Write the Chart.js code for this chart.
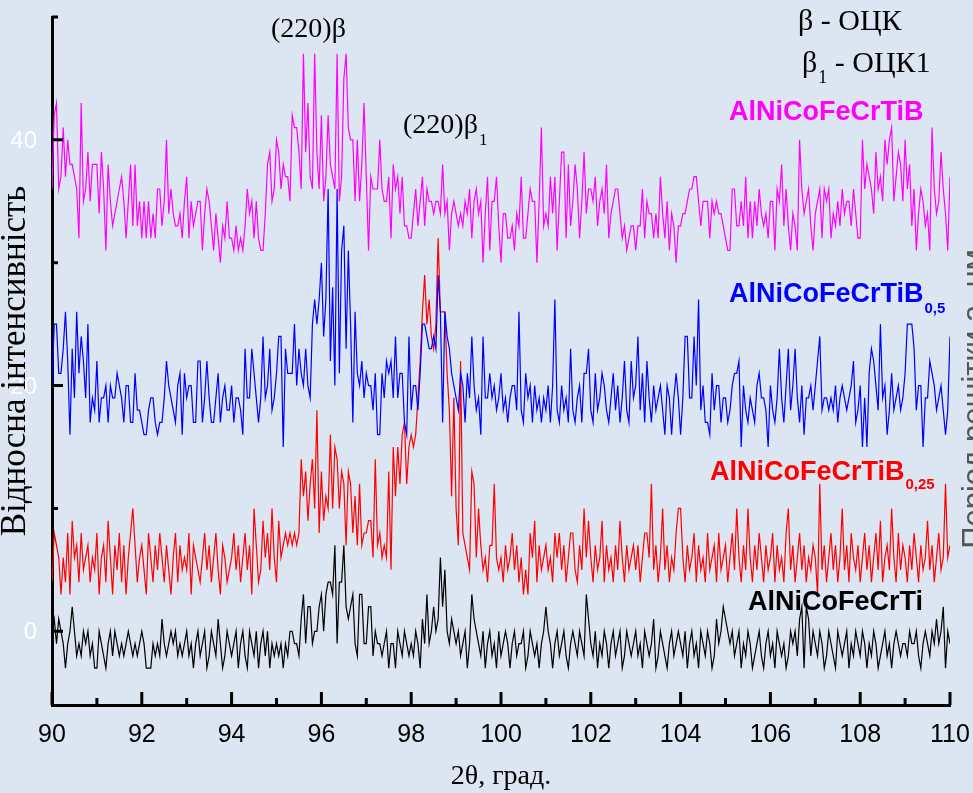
<!DOCTYPE html>
<html>
<head>
<meta charset="utf-8">
<script src="https://cdn.jsdelivr.net/npm/chart.js@4.4.0/dist/chart.umd.min.js"></script>
<style>
  html, body { margin: 0; padding: 0; background: #dce6f2; }
  #wrap { width: 973px; height: 793px; }
</style>
</head>
<body>
<div id="wrap"><canvas id="xrd" width="973" height="793"></canvas></div>
<script>
// sampling grid of the scans: 90..110 deg, 0.05 deg step
const X_START = 90
const X_STEP = 0.05

const xTickLabels = [90, 92, 94, 96, 98, 100, 102, 104, 106, 108, 110]
const xMinorTicks = [91, 93, 95, 97, 99, 101, 103, 105, 107, 109]
const yTickLabels = [0, 20, 40]
const yMinorTicks = [10, 30, 50]

// AlNiCoFeCrTiB (magenta), one row per degree
const magenta = [
  36, 42, 43, 36, 37, 41, 37, 40, 38, 38, 37, 36, 32, 43, 35, 36, 39, 35, 38, 38,
  38, 34, 39, 36, 31, 38, 35, 33, 34, 35, 36, 37, 35, 32, 35, 38, 33, 38, 33, 35,
  32, 35, 32, 35, 32, 34, 32, 36, 36, 33, 35, 40, 34, 36, 34, 33, 33, 34, 32, 35,
  37, 32, 35, 33, 34, 35, 35, 31, 34, 36, 35, 33, 31, 34, 32, 30, 33, 32, 35, 32,
  32, 31, 33, 31, 32, 31, 33, 36, 34, 35, 32, 35, 32, 31, 31, 34, 38, 39, 35, 36,
  40, 39, 36, 38, 37, 37, 35, 42, 41, 41, 39, 36, 47, 39, 43, 37, 36, 47, 39, 36,
  42, 35, 37, 42, 38, 37, 36, 47, 35, 37, 45, 47, 41, 40, 40, 35, 40, 35, 38, 43,
  37, 31, 37, 36, 36, 36, 40, 36, 35, 35, 37, 32, 38, 36, 37, 34, 37, 33, 33, 32,
  32, 34, 36, 33, 35, 37, 33, 36, 35, 35, 34, 35, 35, 34, 38, 34, 35, 31, 34, 35,
  34, 33, 34, 33, 35, 34, 36, 32, 35, 36, 34, 35, 30, 34, 37, 31, 35, 35, 37, 33,
  30, 34, 34, 32, 32, 33, 31, 34, 33, 37, 32, 32, 34, 36, 35, 35, 30, 35, 41, 33,
  34, 33, 37, 34, 37, 31, 35, 39, 39, 32, 38, 33, 35, 38, 36, 32, 35, 39, 34, 36,
  36, 35, 37, 33, 35, 36, 34, 38, 32, 34, 35, 36, 36, 34, 32, 33, 31, 32, 33, 33,
  31, 33, 33, 36, 32, 35, 34, 34, 32, 34, 32, 37, 34, 32, 35, 31, 34, 33, 30, 33,
  33, 34, 34, 35, 36, 36, 37, 37, 35, 33, 35, 35, 35, 32, 35, 34, 35, 34, 34, 33,
  32, 31, 31, 36, 36, 33, 33, 35, 33, 37, 32, 35, 32, 35, 33, 36, 34, 33, 34, 32,
  35, 35, 31, 36, 35, 38, 33, 36, 33, 31, 34, 33, 31, 40, 36, 34, 35, 36, 33, 31,
  34, 35, 36, 32, 36, 35, 36, 32, 34, 33, 35, 33, 36, 34, 35, 35, 33, 36, 34, 32,
  32, 40, 36, 38, 37, 36, 34, 39, 36, 37, 35, 40, 38, 40, 41, 35, 37, 39, 38, 35,
  40, 36, 38, 33, 36, 31, 34, 36, 35, 33, 34, 31, 41, 36, 34, 35, 39, 36, 34, 31,
  37
]

// AlNiCoFeCrTiB0,5 (blue)
const blue = [
  20, 25, 25, 21, 21, 23, 26, 22, 16, 23, 19, 26, 21, 24, 22, 19, 25, 17, 19, 18,
  22, 17, 19, 19, 20, 17, 20, 19, 19, 21, 20, 19, 17, 20, 20, 17, 17, 21, 18, 18,
  17, 16, 16, 18, 19, 19, 17, 16, 17, 17, 19, 22, 20, 19, 18, 17, 20, 21, 16, 21,
  19, 20, 20, 17, 17, 22, 22, 17, 19, 22, 19, 17, 17, 19, 21, 17, 19, 20, 18, 18,
  20, 17, 19, 19, 18, 16, 23, 19, 19, 23, 21, 19, 17, 19, 24, 19, 20, 23, 18, 19,
  21, 24, 24, 15, 23, 21, 21, 21, 25, 20, 23, 21, 20, 23, 20, 19, 25, 27, 25, 27,
  30, 24, 27, 36, 22, 28, 20, 36, 21, 31, 33, 23, 31, 25, 17, 26, 21, 20, 22, 19,
  21, 20, 20, 18, 21, 16, 16, 21, 19, 22, 21, 22, 19, 24, 19, 21, 21, 17, 16, 24,
  18, 20, 20, 18, 21, 25, 25, 24, 23, 23, 24, 23, 29, 26, 17, 26, 24, 23, 21, 20,
  19, 18, 21, 20, 17, 21, 19, 24, 20, 18, 19, 16, 24, 19, 19, 21, 19, 20, 18, 19,
  21, 18, 19, 17, 19, 20, 20, 18, 26, 18, 17, 21, 19, 20, 17, 20, 18, 19, 17, 19,
  18, 20, 17, 20, 27, 18, 17, 20, 18, 19, 17, 23, 18, 17, 19, 20, 17, 21, 21, 23,
  18, 17, 21, 18, 19, 21, 20, 18, 17, 19, 21, 18, 20, 17, 19, 22, 18, 17, 22, 19,
  20, 24, 18, 21, 17, 22, 19, 17, 20, 18, 19, 20, 18, 16, 20, 19, 16, 19, 21, 19,
  16, 19, 24, 24, 19, 19, 24, 20, 27, 18, 20, 17, 17, 16, 21, 18, 20, 20, 17, 19,
  19, 17, 18, 20, 21, 21, 22, 15, 20, 18, 17, 19, 18, 17, 20, 21, 19, 19, 18, 15,
  20, 18, 17, 19, 23, 19, 17, 20, 23, 18, 20, 23, 19, 17, 20, 16, 19, 19, 20, 18,
  20, 22, 24, 18, 19, 19, 18, 19, 18, 20, 17, 19, 20, 19, 18, 19, 20, 22, 17, 18,
  20, 15, 19, 15, 21, 23, 22, 20, 18, 25, 19, 20, 16, 18, 21, 18, 19, 20, 18, 19,
  21, 25, 25, 25, 23, 18, 20, 20, 15, 19, 19, 22, 21, 20, 18, 19, 20, 18, 16, 18,
  24
]

// AlNiCoFeCrTiB0,25 (red)
const red = [
  4, 8, 7, 6, 3, 6, 4, 8, 3, 9, 6, 7, 4, 8, 5, 6, 7, 4, 6, 5,
  8, 3, 6, 7, 4, 9, 6, 3, 7, 5, 8, 4, 7, 3, 6, 8, 10, 7, 4, 6,
  7, 5, 3, 8, 6, 4, 7, 5, 8, 6, 4, 7, 5, 3, 6, 8, 4, 7, 5, 6,
  5, 8, 3, 7, 6, 5, 4, 6, 8, 5, 7, 4, 6, 8, 5, 3, 7, 6, 4, 5,
  6, 8, 5, 7, 4, 6, 8, 5, 7, 3, 10, 7, 4, 5, 9, 6, 8, 5, 10, 6,
  4, 9, 6, 7, 8, 7, 8, 7, 8, 7, 8, 14, 11, 13, 9, 12, 14, 10, 18, 8,
  13, 9, 11, 10, 16, 10, 15, 14, 10, 13, 12, 7, 13, 12, 8, 11, 7, 12, 7, 8,
  8, 9, 9, 6, 14, 7, 8, 6, 7, 6, 13, 5, 15, 11, 15, 12, 16, 17, 12, 15,
  16, 15, 16, 19, 22, 26, 29, 25, 27, 24, 23, 25, 32, 26, 26, 26, 21, 18, 11, 19,
  10, 7, 22, 8, 7, 6, 5, 13, 12, 6, 10, 7, 5, 6, 4, 7, 7, 12, 6, 5,
  6, 4, 7, 5, 6, 8, 5, 7, 4, 6, 3, 5, 3, 8, 6, 9, 4, 7, 5, 6,
  7, 5, 6, 4, 8, 6, 8, 5, 7, 4, 6, 8, 8, 5, 4, 7, 5, 10, 6, 9,
  6, 4, 7, 5, 6, 9, 4, 7, 5, 6, 4, 7, 5, 9, 6, 4, 7, 5, 6, 7,
  5, 7, 4, 6, 8, 8, 6, 12, 5, 7, 4, 6, 10, 5, 7, 4, 6, 5, 8, 10,
  10, 6, 4, 7, 5, 6, 8, 4, 7, 5, 6, 4, 8, 5, 6, 7, 4, 8, 5, 6,
  7, 4, 6, 8, 5, 10, 6, 4, 7, 5, 10, 6, 4, 7, 5, 8, 6, 4, 7, 5,
  6, 8, 4, 7, 5, 6, 4, 8, 10, 5, 7, 4, 6, 8, 5, 7, 4, 6, 5, 7,
  6, 3, 12, 5, 7, 4, 6, 8, 5, 7, 4, 6, 10, 5, 7, 4, 8, 6, 5, 7,
  4, 6, 8, 5, 7, 4, 6, 8, 5, 9, 4, 6, 7, 5, 10, 6, 4, 8, 5, 7,
  6, 4, 7, 5, 8, 6, 4, 7, 5, 6, 9, 5, 7, 4, 6, 8, 5, 6, 12, 6,
  7
]

// AlNiCoFeCrTi (black)
const black = [
  0, 1, -1, 1, 0, -1, -3, -1, 0, 2, 0, -2, -1, -2, 0, -1, 0, -2, -1, -3,
  -3, 0, -1, -2, -3, -1, 0, -2, 0, -1, -2, -1, -2, -1, 0, -1, -2, -1, -2, -1,
  0, -1, -3, -3, -3, -1, -2, -1, -2, 1, -1, -2, -1, 0, -1, 0, -2, -1, -2, -1,
  0, -2, -1, -3, -1, 0, -2, -1, 0, -3, -2, 0, -1, -2, 1, -1, -3, -2, 0, -1,
  -2, -1, 0, -3, -1, 0, -2, -3, 0, -1, -2, 0, -3, -1, 0, -2, 0, -3, -1, -2,
  -1, -2, -1, -3, -1, -2, 0, 0, -1, -1, -2, 1, 3, -1, 2, 2, -1, 0, 0, 2,
  3, 0, 3, 4, 4, 3, 7, -1, 4, 4, 7, 2, 1, 2, 3, -1, -2, 3, 3, -1,
  -1, 2, 2, -2, 0, -1, -1, -2, -1, 0, -3, -1, -1, -3, 0, -1, -2, 0, -1, -2,
  -1, -2, 0, -1, -3, 1, -1, 3, -1, 0, 2, 0, 1, 6, 2, 5, 0, -1, 1, 0,
  -1, 0, -2, -1, 0, -3, -1, 3, 1, 0, -1, -2, 0, -3, -1, 0, -2, -1, -3, 0,
  -2, -1, 0, -1, -3, -1, 0, -2, -1, -1, 0, -3, -2, 0, -1, -2, -1, -3, -1, 0,
  2, 0, -1, -3, -1, 0, -2, -1, 0, -2, -3, -1, 0, -1, -2, 0, -1, -2, 3, 1,
  -1, -2, 0, -3, -1, -2, 0, -1, -3, -1, 0, -2, -1, 0, -3, -2, 0, -1, -2, -1,
  0, -2, -1, -3, 0, -1, -2, -1, 1, -3, -2, 0, -1, -2, -3, -1, 0, -2, -1, 0,
  -1, -2, 0, -3, -1, 0, -2, -1, -3, 0, -1, -2, 0, -1, -3, -2, 1, -1, 0, 2,
  1, 0, -1, 0, -2, -1, 0, -3, -1, -2, 0, -1, -3, -2, -1, 0, -2, -3, -1, 0,
  -2, -1, -3, 0, -1, -2, -1, -3, -2, 0, -1, 0, -2, 1, 2, -3, 2, 1, -2, 0,
  -1, -2, 0, -1, -3, -2, 0, -1, -2, -3, 0, -1, -2, -1, 0, -3, -1, -2, 0, -1,
  -2, 0, -1, -3, -1, -2, 0, -1, -3, -2, -1, 0, -2, -1, -3, -1, 0, -1, -2, -1,
  -1, -2, 0, -1, -1, 0, -2, -3, -1, 0, -1, -2, 0, -1, 1, -1, 0, 2, -3, 0,
  -1
]

const SANS = "'Liberation Sans', Arial, sans-serif"
const SERIF = "'Liberation Serif', 'Times New Roman', serif"

function series(values, color) {
  return {
    data: values.map((v, i) => ({ x: X_START + i * X_STEP, y: v })),
    borderColor: color,
    borderWidth: 1.2,
    pointRadius: 0,
    tension: 0,
    fill: false
  }
}

// text with a lowered index, returns the x where it ends
function withSub(ctx, text, sub, x, y, font, subFont, drop) {
  ctx.font = font
  ctx.fillText(text, x, y)
  let end = x + ctx.measureText(text).width
  ctx.font = subFont
  ctx.fillText(sub, end + 1, y + drop)
  return end + 1 + ctx.measureText(sub).width
}

const frame = {
  id: 'frame',
  afterDraw(chart) {
    const { ctx, chartArea: a, scales: { x, y } } = chart
    ctx.save()

    // ticks point into the plot
    ctx.strokeStyle = '#000'
    ctx.lineWidth = 3
    ctx.beginPath()
    xTickLabels.forEach(v => {
      const px = x.getPixelForValue(v)
      ctx.moveTo(px, a.bottom); ctx.lineTo(px, a.bottom - 13)
    })
    xMinorTicks.forEach(v => {
      const px = x.getPixelForValue(v)
      ctx.moveTo(px, a.bottom); ctx.lineTo(px, a.bottom - 7)
    })
    yTickLabels.forEach(v => {
      const py = y.getPixelForValue(v)
      ctx.moveTo(a.left, py); ctx.lineTo(a.left + 11, py)
    })
    yMinorTicks.forEach(v => {
      const py = y.getPixelForValue(v)
      ctx.moveTo(a.left, py); ctx.lineTo(a.left + 6, py)
    })
    ctx.stroke()

    // tick labels
    ctx.fillStyle = '#000'
    ctx.font = '25px ' + SANS
    ctx.textAlign = 'center'
    ctx.textBaseline = 'alphabetic'
    xTickLabels.forEach(v => ctx.fillText(String(v), x.getPixelForValue(v), 742))

    ctx.fillStyle = '#ffffff'
    ctx.font = '24px ' + SANS
    ctx.textAlign = 'right'
    yTickLabels.forEach(v => ctx.fillText(String(v), 37, y.getPixelForValue(v) + 8))

    // axis titles
    ctx.fillStyle = '#000'
    ctx.textAlign = 'center'
    ctx.font = '28px ' + SERIF
    ctx.fillText('2θ, град.', (a.left + a.right) / 2, 784)

    ctx.save()
    ctx.translate(25, (a.top + a.bottom) / 2)
    ctx.rotate(-Math.PI / 2)
    ctx.font = '35px ' + SERIF
    ctx.fillText('Відносна інтенсивність', 0, 0)
    ctx.restore()

    ctx.save()
    ctx.translate(984, 399)
    ctx.rotate(-Math.PI / 2)
    ctx.fillStyle = '#555'
    ctx.font = '31px ' + SANS
    ctx.fillText('Період решітки a, нм', 0, 0)
    ctx.restore()

    // peak and phase notes
    ctx.textAlign = 'left'
    ctx.fillStyle = '#000'
    ctx.font = '28px ' + SERIF
    ctx.fillText('(220)β', 271, 37)
    withSub(ctx, '(220)β', '1', 403, 133, '28px ' + SERIF, '17px ' + SERIF, 12)
    ctx.font = '30px ' + SERIF
    ctx.fillText('β - ОЦК', 798, 30)
    const e = withSub(ctx, 'β', '1', 802, 72, '30px ' + SERIF, '18px ' + SERIF, 11)
    ctx.font = '30px ' + SERIF
    ctx.fillText(' - ОЦК1', e, 72)

    // sample names
    const bold = 'bold 27px ' + SANS
    const subBold = 'bold 15px ' + SANS
    ctx.font = bold
    ctx.fillStyle = '#ff00ff'
    ctx.fillText('AlNiCoFeCrTiB', 729, 120)
    ctx.fillStyle = '#0000ff'
    withSub(ctx, 'AlNiCoFeCrTiB', '0,5', 729, 302, bold, subBold, 11)
    ctx.fillStyle = '#ff0000'
    withSub(ctx, 'AlNiCoFeCrTiB', '0,25', 710, 480, bold, subBold, 9)
    ctx.font = bold
    ctx.fillStyle = '#000'
    ctx.fillText('AlNiCoFeCrTi', 748, 610)

    ctx.restore()
  }
}

new Chart(document.getElementById('xrd'), {
  type: 'line',
  data: {
    datasets: [
      series(magenta, '#ff00ff'),
      series(blue, '#0000ff'),
      series(red, '#ff0000'),
      series(black, '#000000')
    ]
  },
  options: {
    responsive: false,
    animation: false,
    devicePixelRatio: 1,
    layout: { padding: { top: 17, right: 23, left: 0, bottom: 0 } },
    plugins: { legend: { display: false }, tooltip: { enabled: false } },
    scales: {
      x: {
        type: 'linear',
        min: 90,
        max: 110,
        grid: { display: false },
        border: { display: true, color: '#000', width: 3 },
        ticks: { display: false },
        afterFit(s) { s.height = 88 }
      },
      y: {
        type: 'linear',
        min: -6,
        max: 50,
        grid: { display: false },
        border: { display: true, color: '#000', width: 3 },
        ticks: { display: false },
        afterFit(s) { s.width = 52 }
      }
    }
  },
  plugins: [frame]
})
</script>
</body>
</html>
